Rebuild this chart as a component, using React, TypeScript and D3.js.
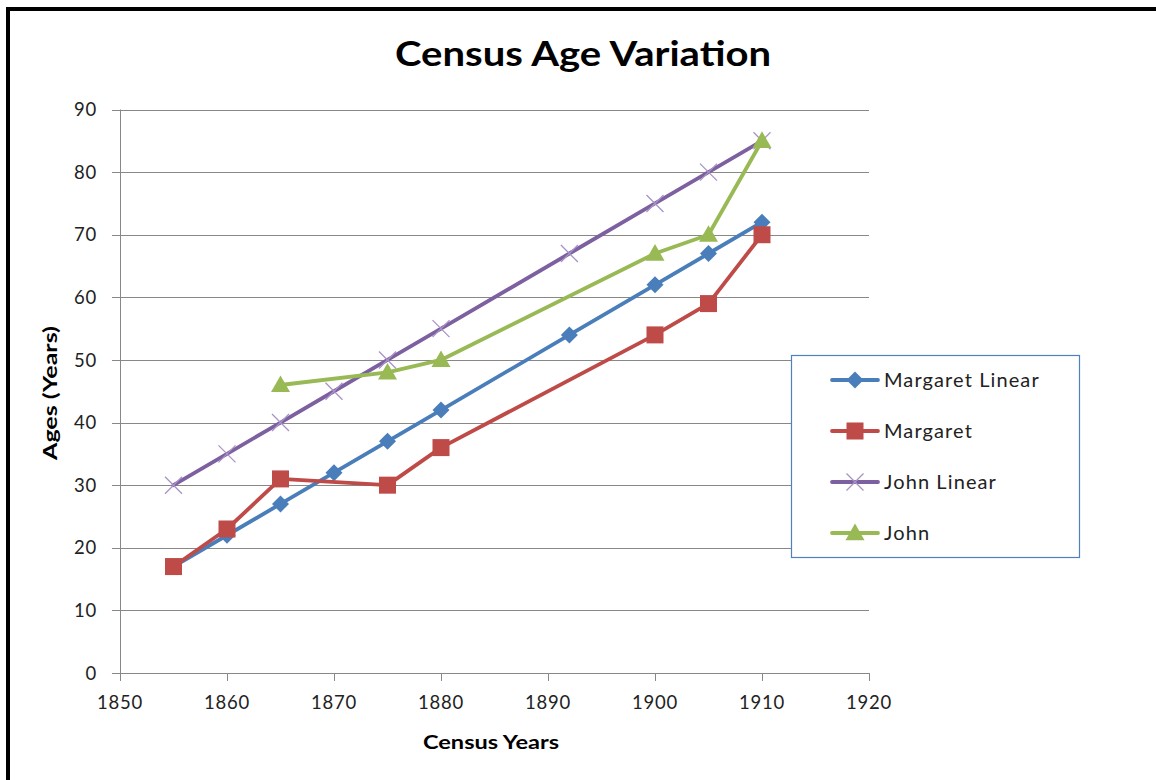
import { useEffect, useRef } from 'react'
import * as d3 from 'd3'

const W = 1156
const H = 780

const xTicks = [1850, 1860, 1870, 1880, 1890, 1900, 1910, 1920]
const yTicks = [0, 10, 20, 30, 40, 50, 60, 70, 80, 90]

const margaretLinearYears = [1855, 1860, 1865, 1870, 1875, 1880, 1892, 1900, 1905, 1910]
const margaretLinearAges = [17, 22, 27, 32, 37, 42, 54, 62, 67, 72]

const margaretYears = [1855, 1860, 1865, 1875, 1880, 1900, 1905, 1910]
const margaretAges = [17, 23, 31, 30, 36, 54, 59, 70]

const johnLinearYears = [1855, 1860, 1865, 1870, 1875, 1880, 1892, 1900, 1905, 1910]
const johnLinearAges = [30, 35, 40, 45, 50, 55, 67, 75, 80, 85]

const johnYears = [1865, 1875, 1880, 1900, 1905, 1910]
const johnAges = [46, 48, 50, 67, 70, 85]

type Marker = 'diamond' | 'square' | 'cross' | 'triangle'
type Series = { name: string; years: number[]; ages: number[]; color: string; marker: Marker }

const series: Series[] = [
  { name: 'Margaret Linear', years: margaretLinearYears, ages: margaretLinearAges, color: '#4A7EBB', marker: 'diamond' },
  { name: 'Margaret', years: margaretYears, ages: margaretAges, color: '#BE4B48', marker: 'square' },
  { name: 'John Linear', years: johnLinearYears, ages: johnLinearAges, color: '#7D60A0', marker: 'cross' },
  { name: 'John', years: johnYears, ages: johnAges, color: '#98B954', marker: 'triangle' },
]

const FONT = 'Lato, "Open Sans", sans-serif'

function drawMarker(
  g: d3.Selection<SVGGElement, unknown, null, undefined>,
  kind: Marker,
  cx: number,
  cy: number,
  color: string
) {
  if (kind === 'diamond') {
    const r = 8.5
    g.append('path')
      .attr('d', `M${cx},${cy - r}L${cx + r},${cy}L${cx},${cy + r}L${cx - r},${cy}Z`)
      .attr('fill', color)
  } else if (kind === 'square') {
    const s = 17
    g.append('rect')
      .attr('x', cx - s / 2)
      .attr('y', cy - s / 2)
      .attr('width', s)
      .attr('height', s)
      .attr('fill', color)
  } else if (kind === 'triangle') {
    const r = 9.5
    g.append('path')
      .attr('d', `M${cx},${cy - r}L${cx + r},${cy + r * 0.75}L${cx - r},${cy + r * 0.75}Z`)
      .attr('fill', color)
  } else {
    const r = 8.5
    g.append('path')
      .attr('d', `M${cx - r},${cy - r}L${cx + r},${cy + r}M${cx + r},${cy - r}L${cx - r},${cy + r}`)
      .attr('stroke', '#A893C6')
      .attr('stroke-width', 1.3)
      .attr('fill', 'none')
  }
}

function CensusChart() {
  const ref = useRef<SVGSVGElement>(null)

  useEffect(() => {
    const el = ref.current
    if (!el) return
    const svg = d3.select(el)
    svg.selectAll('*').remove()

    const x = d3.scaleLinear().domain([1850, 1920]).range([120, 869])
    const y = d3.scaleLinear().domain([0, 90]).range([673, 109.5])

    svg.append('rect').attr('width', W).attr('height', H).attr('fill', '#fff')

    // frame (top and left edges visible)
    svg
      .append('path')
      .attr('d', `M8,${H + 10}L8,9L${W + 10},9`)
      .attr('stroke', '#000')
      .attr('stroke-width', 4)
      .attr('fill', 'none')

    svg
      .append('text')
      .attr('x', 583)
      .attr('y', 66)
      .attr('text-anchor', 'middle')
      .style('font-family', FONT)
      .style('font-size', '34px')
      .style('font-weight', '700')
      .attr('fill', '#000')
      .attr('textLength', 376)
      .attr('lengthAdjust', 'spacingAndGlyphs')
      .text('Census Age Variation')

    const grid = svg.append('g')
    grid
      .selectAll('line.h')
      .data(yTicks)
      .join('line')
      .attr('class', 'h')
      .attr('x1', 112)
      .attr('x2', 869)
      .attr('y1', (d) => Math.round(y(d)) + 0.5)
      .attr('y2', (d) => Math.round(y(d)) + 0.5)
      .attr('stroke', '#888')
      .attr('stroke-width', 1)

    grid
      .append('line')
      .attr('x1', 120.5)
      .attr('x2', 120.5)
      .attr('y1', y(90))
      .attr('y2', 681)
      .attr('stroke', '#888')

    grid
      .selectAll('line.xt')
      .data(xTicks)
      .join('line')
      .attr('class', 'xt')
      .attr('x1', (d) => Math.round(x(d)) + 0.5)
      .attr('x2', (d) => Math.round(x(d)) + 0.5)
      .attr('y1', 673)
      .attr('y2', 681)
      .attr('stroke', '#888')

    svg
      .append('g')
      .selectAll('text')
      .data(yTicks)
      .join('text')
      .attr('x', 97)
      .attr('y', (d) => y(d))
      .attr('dy', '0.36em')
      .attr('text-anchor', 'end')
      .attr('fill', '#222')
      .style('font-family', FONT)
      .style('font-size', '18.5px')
      .style('letter-spacing', '0.8px')
      .text((d) => d)

    svg
      .append('g')
      .selectAll('text')
      .data(xTicks)
      .join('text')
      .attr('x', (d) => x(d))
      .attr('y', 709)
      .attr('text-anchor', 'middle')
      .attr('fill', '#222')
      .style('font-family', FONT)
      .style('font-size', '18.5px')
      .style('letter-spacing', '0.8px')
      .text((d) => d)

    svg
      .append('text')
      .attr('x', 491)
      .attr('y', 749)
      .attr('text-anchor', 'middle')
      .style('font-family', FONT)
      .style('font-size', '19px')
      .style('font-weight', '700')
      .attr('fill', '#000')
      .attr('textLength', 136)
      .attr('lengthAdjust', 'spacingAndGlyphs')
      .text('Census Years')

    svg
      .append('text')
      .attr('transform', `translate(57,393) rotate(-90)`)
      .attr('text-anchor', 'middle')
      .style('font-family', FONT)
      .style('font-size', '19px')
      .style('font-weight', '700')
      .attr('fill', '#000')
      .attr('textLength', 134)
      .attr('lengthAdjust', 'spacingAndGlyphs')
      .text('Ages (Years)')

    const line = d3
      .line<[number, number]>()
      .x((d) => x(d[0]))
      .y((d) => y(d[1]))

    const plot = svg.append('g')
    series.forEach((s) => {
      const pts = s.years.map((yr, i) => [yr, s.ages[i]] as [number, number])
      plot
        .append('path')
        .attr('d', line(pts) || '')
        .attr('fill', 'none')
        .attr('stroke', s.color)
        .attr('stroke-width', 3.8)
        .attr('stroke-linejoin', 'round')
        .attr('stroke-linecap', 'round')
      const mg = plot.append('g')
      pts.forEach((p) => drawMarker(mg, s.marker, x(p[0]), y(p[1]), s.color))
    })

    // legend
    const lg = svg.append('g')
    lg.append('rect')
      .attr('x', 791.5)
      .attr('y', 355.5)
      .attr('width', 288)
      .attr('height', 202)
      .attr('fill', '#fff')
      .attr('stroke', '#4F81BD')
      .attr('stroke-width', 1.2)

    series.forEach((s, i) => {
      const cy = 380 + i * 51
      lg.append('line')
        .attr('x1', 832)
        .attr('x2', 878)
        .attr('y1', cy)
        .attr('y2', cy)
        .attr('stroke', s.color)
        .attr('stroke-width', 3.8)
        .attr('stroke-linecap', 'round')
      const mg = lg.append('g')
      drawMarker(mg, s.marker, 855, cy, s.color)
      lg.append('text')
        .attr('x', 884)
        .attr('y', cy)
        .attr('dy', '0.35em')
        .attr('fill', '#222')
        .style('font-family', FONT)
        .style('font-size', '20px')
        .style('letter-spacing', '1.1px')
        .text(s.name)
    })
  }, [])

  return (
    <svg
      ref={ref}
      width={W}
      height={H}
      viewBox={`0 0 ${W} ${H}`}
      style={{ position: 'absolute', left: 0, top: 0, display: 'block' }}
    />
  )
}

export default function App() {
  return <CensusChart />
}
